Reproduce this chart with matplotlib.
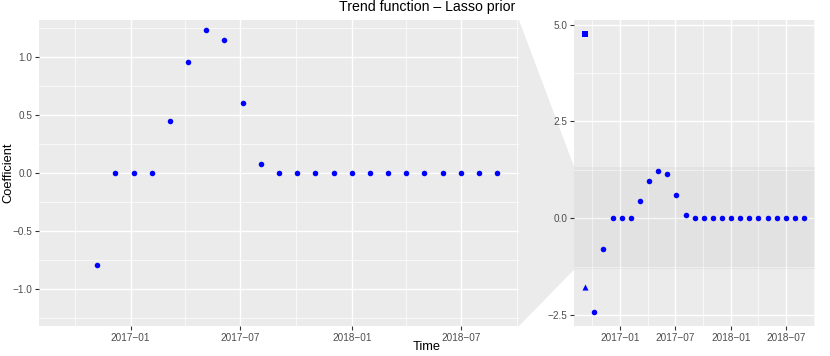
import numpy as np
import matplotlib
matplotlib.use("Agg")
import matplotlib.pyplot as plt
import matplotlib.dates as mdates
from matplotlib.patches import Polygon
import datetime as dt

plt.rcParams['font.family'] = ['Liberation Sans', 'DejaVu Sans']

# ---- data ----
start_date = "2016-09-08"
step_days = 30
changepoint_values = [-2.42, -0.79, 0.0, 0.0, 0.0, 0.45, 0.96, 1.23, 1.15, 0.60, 0.075,
                      0.0, 0.0, 0.0, 0.0, 0.0, 0.0, 0.0, 0.0, 0.0, 0.0, 0.0, 0.0, 0.0]
intercept_value = [4.76]
slope_value = [-1.76]
zoom_ylim = [-1.32, 1.32]
major_ticks = ["2017-01-01", "2017-07-01", "2018-01-01", "2018-07-01"]
minor_ticks = ["2016-10-01", "2017-04-01", "2017-10-01", "2018-04-01", "2018-10-01"]
left_yticks = [-1.0, -0.5, 0.0, 0.5, 1.0]
left_yminor = [-1.25, -0.75, -0.25, 0.25, 0.75, 1.25]
right_yticks = [-2.5, 0.0, 2.5, 5.0]
right_yminor = [-1.25, 1.25, 3.75]

d0 = np.datetime64(start_date)
n = len(changepoint_values) + 1
all_dates = d0 + np.arange(n) * np.timedelta64(step_days, 'D')
cp_dates = all_dates[1:].astype('datetime64[D]').astype(object)
first_date = [all_dates[0].astype('datetime64[D]').astype(object)]

def todn(lst):
    return [mdates.date2num(dt.datetime.strptime(s, "%Y-%m-%d")) for s in lst]

xnum = mdates.date2num(list(all_dates.astype('datetime64[D]').astype(object)))
xr = xnum.max() - xnum.min()
xlim = (xnum.min() - 0.05 * xr, xnum.max() + 0.05 * xr)
allv = changepoint_values + intercept_value + slope_value
yr = max(allv) - min(allv)
rylim = (min(allv) - 0.05 * yr, max(allv) + 0.05 * yr)

W, H = 830, 356
fig = plt.figure(figsize=(W / 100, H / 100), dpi=100)

top_px, bot_px = 20, 326
axL = fig.add_axes([39 / W, 1 - bot_px / H, (519 - 39) / W, (bot_px - top_px) / H])
axR = fig.add_axes([574.3 / W, 1 - bot_px / H, (815 - 574.3) / W, (bot_px - top_px) / H])

bg = '#EBEBEB'
tick_col = '#4D4D4D'

def fmt_date(x, pos=None):
    d = mdates.num2date(x)
    return f"{d.year}\u2212{d.month:02d}"

def fmt_num(v, pos=None):
    s = f"{v:.1f}"
    return s.replace('-', '\u2212')

def style(ax, yt, ym, ylim):
    ax.set_facecolor(bg)
    for sp in ax.spines.values():
        sp.set_visible(False)
    ax.set_xlim(*xlim)
    ax.set_ylim(*ylim)
    ax.set_xticks(todn(major_ticks))
    ax.set_xticks(todn(minor_ticks), minor=True)
    ax.set_yticks(yt)
    ax.set_yticks(ym, minor=True)
    ax.xaxis.set_major_formatter(plt.FuncFormatter(fmt_date))
    ax.yaxis.set_major_formatter(plt.FuncFormatter(fmt_num))
    ax.grid(which='major', color='white', linewidth=1.0, zorder=0)
    ax.grid(which='minor', color='white', linewidth=0.5, zorder=0)
    ax.set_axisbelow(True)
    ax.tick_params(which='major', length=2.8, width=0.8, color='#333333',
                   labelsize=7.2, labelcolor=tick_col, pad=2)
    ax.tick_params(which='minor', length=0)

style(axL, left_yticks, left_yminor, zoom_ylim)
style(axR, right_yticks, right_yminor, rylim)

# zoom area shading on full panel
axR.axhspan(zoom_ylim[0], zoom_ylim[1], color='black', alpha=0.035, lw=0, zorder=1)

ms = 16
axL.scatter(cp_dates, changepoint_values, s=ms, color='#0000FF', marker='o', lw=0, zorder=3)
axL.scatter(first_date, intercept_value, s=ms, color='#0000FF', marker='s', lw=0, zorder=3)
axL.scatter(first_date, slope_value, s=ms * 1.1, color='#0000FF', marker='^', lw=0, zorder=3)
axR.scatter(cp_dates, changepoint_values, s=ms, color='#0000FF', marker='o', lw=0, zorder=3)
axR.scatter(first_date, intercept_value, s=ms * 0.85, color='#0000FF', marker='s', lw=0, zorder=3)
axR.scatter(first_date, slope_value, s=ms * 1.2, color='#0000FF', marker='^', lw=0, zorder=3)

# connecting zoom polygon
fig.canvas.draw()
inv = fig.transFigure.inverted()
lx0, ly0 = inv.transform(axL.transAxes.transform((1, 0)))
lx1, ly1 = inv.transform(axL.transAxes.transform((1, 1)))
rx, ry0 = inv.transform(axR.transData.transform((xlim[0], zoom_ylim[0])))
_, ry1 = inv.transform(axR.transData.transform((xlim[0], zoom_ylim[1])))
poly = Polygon([(lx1, ly1), (rx, ry1), (rx, ry0), (lx0, ly0)], closed=True,
               transform=fig.transFigure, facecolor='#EBEBEB', edgecolor='none', zorder=-1)
fig.patches.append(poly)

fig.text((39 + 815) / 2 / W, 1 - 7 / H, "Trend function \u2013 Lasso prior", ha='center', va='center',
         fontsize=10.2, color='black')
fig.text((39 + 815) / 2 / W, 1 - 347 / H, "Time", ha='center', va='center', fontsize=9.3, color='black')
fig.text(8 / W, 1 - 173 / H, "Coefficient", ha='center', va='center', rotation=90, fontsize=9.3, color='black')

fig.savefig("out.png", dpi=100)
